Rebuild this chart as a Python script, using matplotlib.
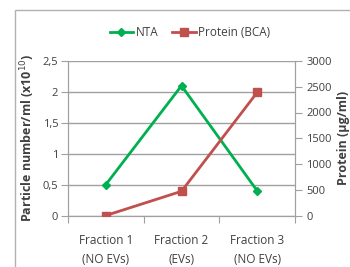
import matplotlib
matplotlib.use('Agg')
import matplotlib.pyplot as plt
from matplotlib.lines import Line2D
from matplotlib.patches import Rectangle

categories = ['Fraction 1\n(NO EVs)', 'Fraction 2\n(EVs)', 'Fraction 3\n(NO EVs)']
nta = [0.5, 2.1, 0.4]
protein = [0, 470, 2390]
left_ticks = [0, 0.5, 1, 1.5, 2, 2.5]
left_labels = ['0', '0,5', '1', '1,5', '2', '2,5']
right_ticks = [0, 500, 1000, 1500, 2000, 2500, 3000]

C_GREEN = '#00B050'
C_RED = '#C0504D'
C_GRID = '#A0A0A0'
C_TEXT = '#404040'

plt.rcParams['font.family'] = ['Open Sans', 'DejaVu Sans']

W, H = 350, 267
fig = plt.figure(figsize=(W / 100, H / 100), dpi=100)
fig.patch.set_facecolor('white')

# outer chart frame (cut off at right/bottom like the source)
fig.patches.append(Rectangle((15 / W, -0.1), 1.2, 1 - 10 / H + 0.1,
                             transform=fig.transFigure, fill=False,
                             edgecolor='#B0B0B0', linewidth=1.0))

ax = fig.add_axes([68 / W, 1 - 215.5 / H, (295 - 68) / W, (215.5 - 61) / H])
ax2 = ax.twinx()

x = list(range(len(categories)))
ax.plot(x, nta, color=C_GREEN, lw=2, marker='D', ms=4, zorder=3)
ax2.plot(x, protein, color=C_RED, lw=2, marker='s', ms=6, zorder=3)

ax.set_xlim(-0.5, 2.5)
ax.set_ylim(0, 2.5)
ax2.set_ylim(0, 3000)

ax.set_yticks(left_ticks)
ax.set_yticklabels(left_labels)
ax2.set_yticks(right_ticks)
ax.yaxis.grid(True, color=C_GRID, lw=1)
ax.set_axisbelow(True)

ax.set_xticks([-0.5, 0.5, 1.5, 2.5])
ax.set_xticklabels([])
ax.set_xticks(x, minor=True)
ax.set_xticklabels(categories, minor=True, linespacing=1.6)
ax.tick_params(axis='x', which='major', length=5, color=C_GRID)
ax.tick_params(axis='x', which='minor', length=0, pad=13, labelsize=8.5, labelcolor=C_TEXT)
ax.tick_params(axis='y', length=5, color=C_GRID, labelsize=8, labelcolor=C_TEXT, pad=2)
ax2.tick_params(axis='y', length=5, color=C_GRID, labelsize=8, labelcolor=C_TEXT, pad=3)

for a in (ax, ax2):
    a.spines['top'].set_visible(False)
    for s in ('left', 'right', 'bottom'):
        a.spines[s].set_color(C_GRID)

ax.set_ylabel('Particle number/ml (x10$^{10}$)', fontsize=9, fontweight='bold',
              color=C_TEXT, labelpad=4)
ax2.set_ylabel('Protein (µg/ml)', fontsize=9, fontweight='bold', color=C_TEXT,
               labelpad=4)

handles = [Line2D([], [], color=C_GREEN, lw=2, marker='D', ms=4),
           Line2D([], [], color=C_RED, lw=2, marker='s', ms=6)]
fig.legend(handles, ['NTA', 'Protein (BCA)'], loc='center', ncol=2,
           bbox_to_anchor=(190 / W, 1 - 33 / H), frameon=False, fontsize=8.5,
           handlelength=2, handletextpad=0.2, columnspacing=1.2,
           labelcolor=C_TEXT)

fig.savefig('out.png', dpi=100, facecolor='white')
